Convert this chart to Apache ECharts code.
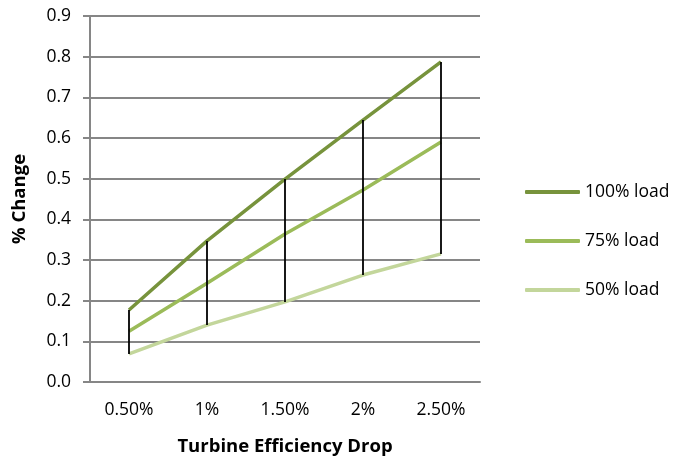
<!DOCTYPE html>
<html>
<head>
<meta charset="utf-8">
<script src="https://cdn.jsdelivr.net/npm/echarts@6/dist/echarts.min.js"></script>
<style>
  html, body { margin: 0; padding: 0; background: #fff; }
  #chart { width: 690px; height: 461px; }
</style>
</head>
<body>
<div id="chart"></div>
<script>
// Efficiency drop categories and % change for each load level
const categories = ['0.50%', '1%', '1.50%', '2%', '2.50%'];
const load100 = [0.177, 0.347, 0.499, 0.644, 0.787];
const load75 = [0.125, 0.243, 0.364, 0.472, 0.590];
const load50 = [0.069, 0.140, 0.197, 0.263, 0.315];
const yTicks = { min: 0, max: 0.9, interval: 0.1 };

const FONT = '"Open Sans", "Liberation Sans", sans-serif';
const colors = { c100: '#77933C', c75: '#9BBB59', c50: '#C3D69B' };

// High-low connectors: one vertical segment per category from 100% to 50% load
const hiLo = categories.map((c, i) => [i, load100[i], load50[i]]);

const chart = echarts.init(document.getElementById('chart'));
chart.setOption({
  backgroundColor: '#ffffff',
  animation: false,
  grid: { left: 90, right: 210, top: 16, bottom: 79 },
  legend: {
    orient: 'vertical',
    left: 520,
    top: 177,
    itemGap: 29,
    itemWidth: 55,
    itemHeight: 4,
    itemTextGap: 4,
    icon: 'roundRect',
    textStyle: { fontFamily: FONT, fontSize: 17.5, lineHeight: 20, color: '#000' },
    data: ['100% load', '75% load', '50% load']
  },
  xAxis: {
    type: 'category',
    data: categories,
    boundaryGap: true,
    name: 'Turbine Efficiency Drop',
    nameLocation: 'middle',
    nameGap: 55,
    nameTextStyle: { fontFamily: FONT, fontSize: 18.5, fontWeight: 'bold', color: '#000' },
    axisLine: { lineStyle: { color: '#868686', width: 2 } },
    axisTick: { show: false },
    axisLabel: { fontFamily: FONT, fontSize: 17.5, color: '#000', margin: 19 }
  },
  yAxis: {
    type: 'value',
    min: yTicks.min,
    max: yTicks.max,
    interval: yTicks.interval,
    name: '% Change',
    nameLocation: 'middle',
    nameGap: 61,
    nameRotate: 90,
    nameTextStyle: { fontFamily: FONT, fontSize: 18.5, fontWeight: 'bold', color: '#000' },
    axisLine: { show: true, lineStyle: { color: '#868686', width: 2 } },
    axisTick: { show: true, length: 7, lineStyle: { color: '#868686', width: 2 } },
    axisLabel: {
      fontFamily: FONT, fontSize: 17.5, color: '#000', margin: 19,
      formatter: v => v.toFixed(1)
    },
    splitLine: { show: true, lineStyle: { color: '#868686', width: 2 } }
  },
  series: [
    {
      name: '100% load', type: 'line', data: load100,
      symbol: 'none', color: colors.c100,
      lineStyle: { width: 3.5, color: colors.c100 }
    },
    {
      name: '75% load', type: 'line', data: load75,
      symbol: 'none', color: colors.c75,
      lineStyle: { width: 3.5, color: colors.c75 }
    },
    {
      name: '50% load', type: 'line', data: load50,
      symbol: 'none', color: colors.c50,
      lineStyle: { width: 3.5, color: colors.c50 }
    },
    {
      name: 'high-low', type: 'custom', data: hiLo, z: 5,
      encode: { x: 0, y: [1, 2] },
      renderItem: (params, api) => {
        const top = api.coord([api.value(0), api.value(1)]);
        const bot = api.coord([api.value(0), api.value(2)]);
        return {
          type: 'line',
          shape: { x1: top[0], y1: top[1], x2: bot[0], y2: bot[1] },
          style: { stroke: '#000', lineWidth: 1.8 }
        };
      }
    }
  ]
});
</script>
</body>
</html>
